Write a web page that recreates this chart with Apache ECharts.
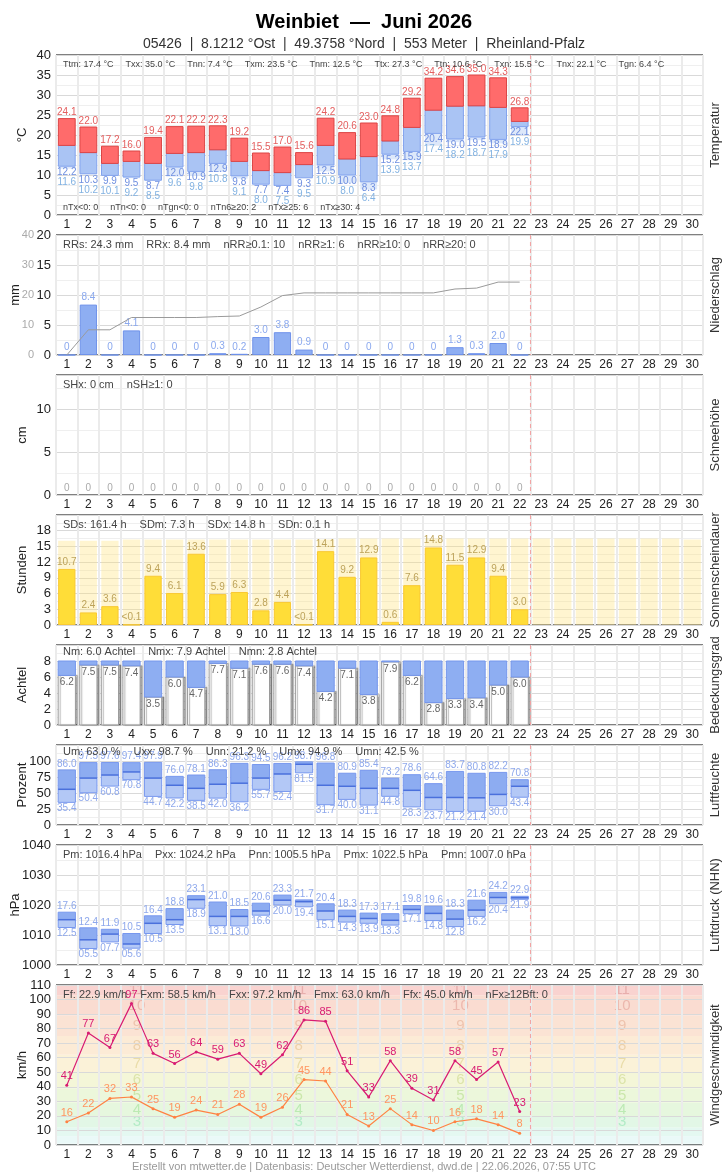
<!DOCTYPE html>
<html>
<head>
<meta charset="utf-8">
<script src="https://cdn.jsdelivr.net/npm/echarts@6/dist/echarts.min.js"></script>
<style>
  html, body { margin: 0; padding: 0; background: #fff; }
  #chart { width: 728px; height: 1175px; }
</style>
</head>
<body>
<div id="chart"></div>
<script>
const FONT = '"Liberation Sans", Arial, Helvetica, sans-serif';

const days = ['1','2','3','4','5','6','7','8','9','10','11','12','13','14','15',
  '16','17','18','19','20','21','22','23','24','25','26','27','28','29','30'];
const todayIdx = 21; // letzter Tag mit Daten (22.)

// Temperatur (°C)
const tx  = [24.1,22.0,17.2,16.0,19.4,22.1,22.2,22.3,19.2,15.5,17.0,15.6,24.2,20.6,23.0,24.8,29.2,34.2,34.6,35.0,34.3,26.8];
const tm  = [17.4,15.6,12.9,13.4,12.9,15.4,15.6,16.3,13.4,11.1,10.6,12.6,17.4,14.0,14.6,18.5,21.9,26.2,27.2,27.3,26.9,23.4];
const tn  = [12.2,10.3,9.9,9.5,8.7,12.0,10.9,12.9,9.8,7.7,7.4,9.3,12.5,10.0,8.3,15.2,15.9,20.4,19.0,19.5,18.9,22.1];
const tgn = [11.6,10.2,10.1,9.2,8.5,9.6,9.8,10.8,9.1,8.0,7.5,9.5,10.9,8.0,6.4,13.9,13.7,17.4,18.2,18.7,17.9,19.9];

// Niederschlag (mm)
const rr    = [0,8.4,0,4.1,0,0,0,0.3,0.2,3.0,3.8,0.9,0,0,0,0,0,0,1.3,0.3,2.0,0];
const rrSum = [0,8.4,8.4,12.5,12.5,12.5,12.5,12.8,13.0,16.0,19.8,20.7,20.7,20.7,20.7,20.7,20.7,20.7,22.0,22.3,24.3,24.3];

// Schneehöhe (cm)
const snow = [0,0,0,0,0,0,0,0,0,0,0,0,0,0,0,0,0,0,0,0,0,0];

// Sonnenscheindauer (h)
const sd    = [10.7,2.4,3.6,0.05,9.4,6.1,13.6,5.9,6.3,2.8,4.4,0.05,14.1,9.2,12.9,0.6,7.6,14.8,11.5,12.9,9.4,3.0];
const sdMax = [16.1,16.1,16.1,16.3,16.3,16.3,16.3,16.3,16.3,16.3,16.3,16.3,16.3,16.5,16.5,
               16.5,16.5,16.5,16.5,16.5,16.5,16.5,16.5,16.5,16.5,16.5,16.5,16.5,16.5,16.3];

// Bedeckungsgrad (Achtel)
const cloud = [6.2,7.5,7.5,7.4,3.5,6.0,4.7,7.7,7.1,7.6,7.6,7.4,4.2,7.1,3.8,7.9,6.2,2.8,3.3,3.4,5.0,6.0];
const cloudFull = 8;

// Luftfeuchte (%)
const uMax  = [86.0,97.5,97.6,97.4,97.9,76.0,78.1,86.3,96.3,94.5,96.2,98.7,96.8,80.9,85.4,73.2,78.6,64.6,83.7,80.8,82.2,70.8];
const uMean = [55.8,73.3,78.1,82.9,73.3,62.1,57.3,63.7,65.3,73.3,79.7,94.9,62.1,60.5,57.3,57.3,54.2,43.0,43.0,42.5,47.8,60.5];
const uMin  = [35.4,50.4,60.8,70.8,44.7,42.2,38.5,42.0,36.2,55.7,52.4,81.5,31.7,40.0,31.1,44.8,28.3,23.7,21.2,21.4,30.0,43.4];

// Luftdruck (hPa)
const pMax  = [1017.6,1012.4,1011.9,1010.5,1016.4,1018.8,1023.1,1021.0,1018.5,1020.6,1023.3,1021.7,1020.4,1018.3,1017.3,1017.1,1019.8,1019.6,1018.3,1021.6,1024.2,1022.9];
const pMean = [1015.1,1008.4,1010.3,1007.0,1013.9,1015.1,1021.8,1016.2,1016.2,1018.0,1021.6,1021.1,1018.0,1016.2,1015.5,1014.9,1018.5,1017.2,1015.3,1018.3,1022.5,1022.4];
const pMin  = [1012.5,1005.5,1007.7,1005.6,1010.5,1013.5,1018.9,1013.1,1013.0,1016.6,1020.0,1019.4,1015.1,1014.3,1013.9,1013.3,1017.1,1014.8,1012.8,1016.2,1020.4,1021.9];

// Wind (km/h)
const fx = [41,77,67,97.2,63,56,64,59,63,49,62,86,85,51,33,58,39,31,58,45,57,23];
const ff = [16,22,32,33,25,19,24,21,28,19,26,45,44,21,13,25,14,10,16,18,14,8];
const windTop = 110;

// Beaufort-Stufen (Untergrenzen km/h)
const bftEdges = [0,1,6,12,20,29,39,50,62,75,89,103,118];
const bftFill = ['#f0fbfb','#eaf9f8','#e4f8f1','#e2f7e6','#e6f7de','#ecf7db','#f4f6d8','#fbf2d8','#fcebd6','#fbe3d4','#fadcd1','#f9d3d0'];
const bftText = ['','','','rgba(90,215,140,0.35)','rgba(110,210,100,0.35)','rgba(140,200,80,0.35)','rgba(175,195,80,0.35)',
  'rgba(200,180,80,0.35)','rgba(210,160,90,0.35)','rgba(215,135,100,0.35)','rgba(210,115,105,0.35)','rgba(200,105,105,0.35)'];

// Statistik-Zeilen
const statsTempTop = ['Ttm: 17.4 °C','Txx: 35.0 °C','Tnn: 7.4 °C','Txm: 23.5 °C','Tnm: 12.5 °C',
  'Ttx: 27.3 °C','Ttn: 10.6 °C','Txn: 15.5 °C','Tnx: 22.1 °C','Tgn: 6.4 °C'];
const statsTempBottom = ['nTx<0: 0','nTn<0: 0','nTgn<0: 0','nTn6≥20: 2','nTx≥25: 6','nTx≥30: 4'];
const statsRain = ['RRs: 24.3 mm','RRx: 8.4 mm','nRR≥0.1: 10','nRR≥1: 6','nRR≥10: 0','nRR≥20: 0'];
const statsSnow = ['SHx: 0 cm','nSH≥1: 0'];
const statsSun = ['SDs: 161.4 h','SDm: 7.3 h','SDx: 14.8 h','SDn: 0.1 h'];
const statsCloud = ['Nm: 6.0 Achtel','Nmx: 7.9 Achtel','Nmn: 2.8 Achtel'];
const statsHum = ['Um: 63.0 %','Uxx: 98.7 %','Unn: 21.2 %','Umx: 94.9 %','Umn: 42.5 %'];
const statsPres = ['Pm: 1016.4 hPa','Pxx: 1024.2 hPa','Pnn: 1005.5 hPa','Pmx: 1022.5 hPa','Pmn: 1007.0 hPa'];
const statsWind = ['Ff: 22.9 km/h','Fxm: 58.5 km/h','Fxx: 97.2 km/h','Fmx: 63.0 km/h','Ffx: 45.0 km/h','nFx≥12Bft: 0'];

// Layout der Felder
const panels = [
  {top: 55,  height: 160, unit: '°C',      title: 'Temperatur',          unitX: 22},
  {top: 235, height: 120, unit: 'mm',      title: 'Niederschlag',        unitX: 15},
  {top: 375, height: 120, unit: 'cm',      title: 'Schneehöhe',          unitX: 22},
  {top: 515, height: 110, unit: 'Stunden', title: 'Sonnenscheindauer',   unitX: 22},
  {top: 645, height: 80,  unit: 'Achtel',  title: 'Bedeckungsgrad',      unitX: 22},
  {top: 745, height: 80,  unit: 'Prozent', title: 'Luftfeuchte',         unitX: 22},
  {top: 845, height: 120, unit: 'hPa',     title: 'Luftdruck (NHN)',     unitX: 15},
  {top: 985, height: 160, unit: 'km/h',    title: 'Windgeschwindigkeit', unitX: 22}
];

const chart = echarts.init(document.getElementById('chart'));

function box(api, i, a, b, ratio) {
  const p = api.coord([i, a]), q = api.coord([i, b]);
  const w = api.size([1, 0])[0] * ratio;
  return {x: p[0] - w / 2, y: Math.min(p[1], q[1]), width: w, height: Math.abs(p[1] - q[1])};
}
function txt(x, y, s, color, size, va) {
  return {type: 'text', x: x, y: y, style: {text: s, fill: color, font: size + 'px ' + FONT, align: 'center', verticalAlign: va}};
}

// y-Achsen
function yAx(g, min, max, interval, showMax, extra) {
  return Object.assign({
    type: 'value', gridIndex: g, position: 'left', min: min, max: max, interval: interval,
    axisLine: {show: false}, axisTick: {show: false},
    axisLabel: {color: '#222', fontSize: 13, margin: 5, showMaxLabel: showMax, fontFamily: FONT, formatter: v => String(v)},
    splitLine: {lineStyle: {color: '#d9d9d9'}},
    minorTick: {show: false, splitNumber: 2},
    minorSplitLine: {show: true, lineStyle: {color: '#efefef'}}
  }, extra || {});
}
const yAxes = [
  yAx(0, 0, 40, 5, true),
  yAx(1, 0, 20, 5, true),
  yAx(1, 0, 40, 10, true, {offset: 17, splitLine: {show: false}, minorSplitLine: {show: false},
    axisLabel: {color: '#aaa', fontSize: 11, margin: 5, showMaxLabel: true, fontFamily: FONT}}),
  yAx(2, 0, 14, 5, false),
  yAx(3, 0, 21, 3, false),
  yAx(4, 0, 10, 2, false),
  yAx(5, 0, 125, 25, false),
  yAx(6, 1000, 1040, 10, true),
  yAx(7, 0, windTop, 10, true, {minorSplitLine: {show: false}})
];
const yOfGrid = [0, 1, 3, 4, 5, 6, 7, 8];

const series = [];

// Temperatur
series.push({
  type: 'custom', xAxisIndex: 0, yAxisIndex: 0,
  data: tx.map((v, i) => [i, tn[i], tm[i], v, tgn[i]]),
  renderItem(params, api) {
    const i = api.value(0), n = api.value(1), m = api.value(2), x = api.value(3), g = api.value(4);
    const kids = [];
    if (g < n) kids.push({type: 'rect', shape: box(api, i, g, n, 0.78), style: {fill: '#dde8fa'}});
    kids.push({type: 'rect', shape: box(api, i, n, m, 0.78), style: {fill: '#aac4f4', stroke: '#82a3ee', lineWidth: 1}});
    kids.push({type: 'rect', shape: box(api, i, m, x, 0.78), style: {fill: '#ff6b6b', stroke: '#dc4545', lineWidth: 1}});
    const top = api.coord([i, x]), low = api.coord([i, n]);
    kids.push(txt(top[0], top[1] - 1, x.toFixed(1), '#e45e5e', 10, 'bottom'));
    kids.push(txt(low[0], low[1] + 1, n.toFixed(1), '#6f8fe0', 10, 'top'));
    kids.push(txt(low[0], low[1] + 11, g.toFixed(1), '#82b2e2', 10, 'top'));
    return {type: 'group', children: kids};
  }
});

// Niederschlag
series.push({
  type: 'bar', xAxisIndex: 1, yAxisIndex: 1, data: rr, barWidth: '80%',
  itemStyle: {color: '#8eaef2', borderColor: '#6f92ea', borderWidth: 1},
  label: {show: true, position: 'top', distance: 2, color: '#8aa8ee', fontSize: 10, fontFamily: FONT,
    formatter: p => p.value === 0 ? '0' : p.value.toFixed(1)}
});
series.push({
  type: 'line', xAxisIndex: 1, yAxisIndex: 2, data: rrSum, symbol: 'none',
  lineStyle: {color: '#9a9a9a', width: 1}
});

// Schnee
series.push({
  type: 'bar', xAxisIndex: 2, yAxisIndex: 3, data: snow, barWidth: '80%',
  itemStyle: {color: '#cfd8f0'},
  label: {show: true, position: 'top', distance: 2, color: '#aaa', fontSize: 10, fontFamily: FONT, formatter: '{c}'}
});

// Sonne
series.push({
  type: 'bar', xAxisIndex: 3, yAxisIndex: 4, data: sdMax, barWidth: '80%', barGap: '-100%', silent: true,
  itemStyle: {color: 'rgba(255,226,120,0.35)'}
});
series.push({
  type: 'bar', xAxisIndex: 3, yAxisIndex: 4, data: sd, barWidth: '80%', barGap: '-100%',
  itemStyle: {color: '#ffdd38', borderColor: '#f9c933', borderWidth: 1},
  label: {show: true, position: 'top', distance: 2, color: '#bda35a', fontSize: 10, fontFamily: FONT,
    formatter: p => p.value < 0.1 ? '<0.1' : p.value.toFixed(1)}
});

// Bewölkung
series.push({
  type: 'custom', xAxisIndex: 4, yAxisIndex: 5,
  data: cloud.map((v, i) => [i, v]),
  renderItem(params, api) {
    const i = api.value(0), n = api.value(1);
    const p = api.coord([i, n]);
    return {type: 'group', children: [
      {type: 'rect', shape: box(api, i, 0, n, 0.8),
        style: {fill: '#fff', stroke: '#9a9a9a', lineWidth: 1, shadowColor: 'rgba(0,0,0,0.3)', shadowOffsetX: 2, shadowBlur: 1}},
      {type: 'rect', shape: box(api, i, n, cloudFull, 0.8), style: {fill: '#8eaef2', stroke: '#7496ec', lineWidth: 1}},
      txt(p[0], p[1] + 2, n.toFixed(1), '#666', 10, 'top')
    ]};
  }
});

// Feuchte / Druck
function rangeSeries(xi, yi, hi, mean, lo, fmt) {
  return {
    type: 'custom', xAxisIndex: xi, yAxisIndex: yi,
    data: hi.map((v, i) => [i, v, mean[i], lo[i]]),
    renderItem(params, api) {
      const i = api.value(0), h = api.value(1), m = api.value(2), l = api.value(3);
      const mb = box(api, i, m, m, 0.8);
      const top = api.coord([i, h]), bot = api.coord([i, l]);
      return {type: 'group', children: [
        {type: 'rect', shape: box(api, i, l, m, 0.8), style: {fill: '#b3c8f6'}},
        {type: 'rect', shape: box(api, i, m, h, 0.8), style: {fill: '#8dacf1'}},
        {type: 'rect', shape: box(api, i, l, h, 0.8), style: {fill: 'none', stroke: '#7898ee', lineWidth: 1}},
        {type: 'line', shape: {x1: mb.x, y1: mb.y, x2: mb.x + mb.width, y2: mb.y}, style: {stroke: '#4a70dc', lineWidth: 1.5}},
        txt(top[0], top[1] - 1, fmt(h), '#8ea8ec', 10, 'bottom'),
        txt(bot[0], bot[1] + 1, fmt(l), '#8ea8ec', 10, 'top')
      ]};
    }
  };
}
series.push(rangeSeries(5, 6, uMax, uMean, uMin, v => v.toFixed(1)));
series.push(rangeSeries(6, 7, pMax, pMean, pMin, v => {
  const s = (v - 1000).toFixed(1);
  return s.length < 4 ? '0' + s : s;
}));

// Beaufort-Hintergrund
series.push({
  type: 'custom', xAxisIndex: 7, yAxisIndex: 8, z: -1, silent: true, clip: true,
  data: bftFill.map((c, k) => [0, bftEdges[k], bftEdges[k + 1], k]),
  renderItem(params, api) {
    const cs = params.coordSys;
    const lo = api.value(1), hi = Math.min(api.value(2), windTop), k = api.value(3);
    const y0 = api.coord([0, lo])[1], y1 = api.coord([0, hi])[1];
    const kids = [{type: 'rect', shape: {x: cs.x, y: y1, width: cs.width, height: y0 - y1}, style: {fill: bftFill[k]}}];
    if (bftText[k]) {
      const ym = api.coord([0, (lo + hi) / 2])[1];
      [1, 3, 5, 7].forEach(f => kids.push(txt(cs.x + cs.width * f / 8, ym, String(k), bftText[k], 15, 'middle')));
    }
    return {type: 'group', children: kids};
  }
});
series.push({
  type: 'line', xAxisIndex: 7, yAxisIndex: 8, data: fx, symbol: 'circle', symbolSize: 3,
  itemStyle: {color: '#d81b72'}, lineStyle: {color: '#d81b72', width: 1.2},
  label: {show: true, position: 'top', distance: 2, color: '#d81b72', fontSize: 11, fontFamily: FONT,
    formatter: p => Math.round(p.value)}
});
series.push({
  type: 'line', xAxisIndex: 7, yAxisIndex: 8, data: ff, symbol: 'circle', symbolSize: 3,
  itemStyle: {color: '#ff8243'}, lineStyle: {color: '#ff8243', width: 1.2},
  label: {show: true, position: 'top', distance: 2, color: '#ff9560', fontSize: 11, fontFamily: FONT}
});

// Heute-Linie in allen Feldern
panels.forEach((p, g) => {
  series.push({
    type: 'custom', xAxisIndex: g, yAxisIndex: yOfGrid[g], silent: true, z: 5,
    data: [[todayIdx, 0]],
    renderItem(params, api) {
      const cs = params.coordSys;
      const x = api.coord([api.value(0), 0])[0] + api.size([1, 0])[0] / 2;
      return {type: 'line', shape: {x1: x, y1: cs.y, x2: x, y2: cs.y + cs.height},
        style: {stroke: '#f2a0a0', lineWidth: 1, lineDash: [4, 3]}};
    }
  });
});

// Text-Elemente
const measure = document.createElement('canvas').getContext('2d');
function statLine(items, y, size, gap) {
  measure.font = size + 'px ' + FONT;
  let x = 63;
  return items.map(t => {
    const el = {type: 'text', x: x, y: y, z: 10, silent: true,
      style: {text: t, fill: '#444', font: size + 'px ' + FONT, verticalAlign: 'middle'}};
    x += measure.measureText(t).width + gap;
    return el;
  });
}
const graphics = [].concat(
  statLine(statsTempTop, 65, 9, 12),
  statLine(statsTempBottom, 208, 9, 12),
  statLine(statsRain, 245, 11, 13),
  statLine(statsSnow, 385, 11, 13),
  statLine(statsSun, 525, 11, 13),
  statLine(statsCloud, 652, 11, 13),
  statLine(statsHum, 752, 11, 13),
  statLine(statsPres, 855, 11, 13),
  statLine(statsWind, 995, 11, 13)
);
panels.forEach(p => {
  const cy = p.top + p.height / 2;
  graphics.push({type: 'text', x: 715, y: cy, rotation: Math.PI / 2, silent: true,
    style: {text: p.title, fill: '#333', font: '13px ' + FONT, align: 'center', verticalAlign: 'middle'}});
  graphics.push({type: 'text', x: p.unitX, y: cy, rotation: Math.PI / 2, silent: true,
    style: {text: p.unit, fill: '#222', font: '13px ' + FONT, align: 'center', verticalAlign: 'middle'}});
});
graphics.push({type: 'text', x: 364, y: 1167, silent: true,
  style: {text: 'Erstellt von mtwetter.de | Datenbasis: Deutscher Wetterdienst, dwd.de | 22.06.2026, 07:55 UTC',
    fill: '#999', font: '11px ' + FONT, align: 'center', verticalAlign: 'middle'}});

chart.setOption({
  animation: false,
  backgroundColor: '#fff',
  textStyle: {fontFamily: FONT},
  title: [
    {text: 'Weinbiet  —  Juni 2026', left: 'center', top: 7,
      textStyle: {fontSize: 20, fontWeight: 'bold', color: '#000', fontFamily: FONT}},
    {text: '05426  |  8.1212 °Ost  |  49.3758 °Nord  |  553 Meter  |  Rheinland-Pfalz', left: 'center', top: 32,
      textStyle: {fontSize: 14, fontWeight: 'normal', color: '#333', fontFamily: FONT}}
  ],
  grid: panels.map(p => ({left: 56, width: 647, top: p.top, height: p.height, show: true,
    borderColor: '#000', borderWidth: 1, backgroundColor: 'transparent'})),
  xAxis: panels.map((p, g) => ({
    type: 'category', gridIndex: g, data: days, boundaryGap: true,
    axisLine: {show: false}, axisTick: {show: false},
    axisLabel: {interval: 0, color: '#222', fontSize: 12, margin: 4, fontFamily: FONT},
    splitLine: {show: true, interval: 0, lineStyle: {color: '#ebebeb', width: 2}}
  })),
  yAxis: yAxes,
  series: series,
  graphic: graphics
});
</script>
</body>
</html>
